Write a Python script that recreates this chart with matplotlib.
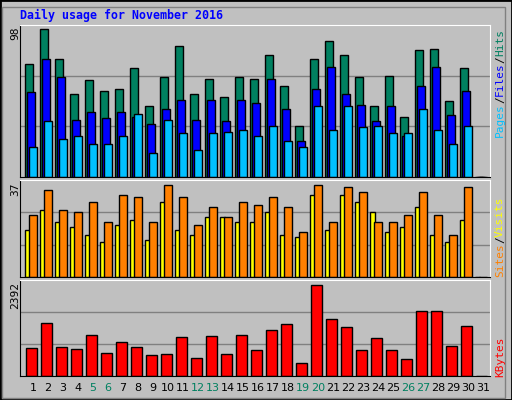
import matplotlib

matplotlib.use("Agg")
import matplotlib.pyplot as plt
from matplotlib.patches import Rectangle

days = list(range(1, 32))
weekend = [5, 6, 12, 13, 19, 20, 26, 27]

hits = [75, 98, 78, 55, 64, 57, 58, 72, 47, 66, 87, 55, 65, 53, 66, 65, 81, 60, 34, 78,
        90, 81, 66, 47, 67, 40, 84, 85, 50, 72, 0]
files = [56, 78, 66, 38, 43, 39, 43, 40, 35, 45, 51, 38, 51, 37, 51, 49, 65, 45, 24, 58,
         73, 55, 48, 37, 47, 27, 60, 73, 41, 57, 0]
pages = [20, 37, 25, 27, 22, 22, 27, 42, 16, 38, 29, 18, 29, 30, 31, 27, 34, 24, 20, 47,
         31, 47, 33, 34, 29, 29, 45, 31, 22, 34, 0]
sites = [19, 27, 22, 20, 17, 14, 21, 23, 15, 30, 19, 17, 24, 24, 22, 22, 26, 17, 16, 33,
         19, 33, 30, 26, 18, 20, 28, 17, 14, 23, 0]
visits = [25, 35, 27, 26, 30, 22, 33, 32, 22, 37, 32, 21, 28, 24, 30, 29, 32, 28, 18, 37,
          22, 36, 34, 22, 22, 25, 34, 25, 17, 36, 0]
kbytes = [742, 1397, 768, 716, 1083, 611, 899, 768, 559, 585, 1030, 480, 1056, 585, 1083,
          690, 1213, 1371, 349, 2392, 1502, 1292, 690, 1004, 690, 454, 1711, 1711, 794, 1318, 0]

BG = "#c0c0c0"
W, H = 512, 400
fig = plt.figure(figsize=(W / 100, H / 100), dpi=100, facecolor=BG)
fig.patches.append(Rectangle((0, 0), 1, 1, transform=fig.transFigure, fill=False,
                             edgecolor="#000000", lw=2))
fig.patches.append(Rectangle((2 / W, 2 / H), 1 - 9 / W, 1 - 9 / H, transform=fig.transFigure,
                             fill=False, edgecolor="#808080", lw=1))

mono = "DejaVu Sans Mono"
fig.text(20 / W, 1 - 15 / H, "Daily usage for November 2016", color="#0000ff",
         fontsize=8.4, fontweight="bold", family=mono, va="center")

X0, X1 = 20, 490
xlim = ((X0 - 25) / 15 + 1, (X1 - 25) / 15 + 1)


def panel(top, bottom, vmax, label):
    ax = fig.add_axes([X0 / W, 1 - bottom / H, (X1 - X0) / W, (bottom - top) / H])
    ax.set_facecolor(BG)
    ax.set_xlim(*xlim)
    ax.set_ylim(0, vmax)
    ax.set_xticks([])
    ax.set_yticks([])
    for s in ("top", "right"):
        ax.spines[s].set_color("white")
    for s in ("left", "bottom"):
        ax.spines[s].set_color("black")
    for f in (1 / 3, 2 / 3):
        ax.axhline(vmax * f, color="#808080", lw=1, zorder=0)
    fig.text(15 / W, 1 - (top + 2) / H, label, rotation=90, ha="center", va="top",
             fontsize=8, family=mono)
    return ax


def bars(ax, vals, off, width, color):
    x = [d + off / 15 for d in days]
    ax.bar(x, vals, width=width / 15, align="edge", color=color, edgecolor="black",
           lw=1, zorder=2)


ax1 = panel(25, 177, 98 * 152 / 148, "98")
bars(ax1, hits, 0, 8, "#008060")
bars(ax1, files, 2, 8, "#0000ff")
bars(ax1, pages, 4, 8, "#00c0ff")

ax2 = panel(180, 277, 37 * 97 / 92, "37")
bars(ax2, sites, 0, 5, "#ffff00")
bars(ax2, visits, 4, 8, "#ff8000")

ax3 = panel(280, 376, 2392 * 96 / 91.5, "2392")
bars(ax3, kbytes, 1, 11, "#ff0000")

for d in days:
    fig.text((25 + 15 * (d - 1) + 8) / W, 1 - 388 / H, str(d), ha="center", va="center",
             fontsize=8, color="#008060" if d in weekend else "black")

renderer = fig.canvas.get_renderer()


def side(parts, y_bottom):
    # stack rotated pieces upward, measuring each one
    y = y_bottom
    for text, color in parts:
        t = fig.text(500 / W, 1 - y / H, text, rotation=90, ha="center", va="bottom",
                     fontsize=8, color=color, family=mono)
        y -= t.get_window_extent(renderer).height


side([("Pages", "#00c0ff"), ("/", "#000000"), ("Files", "#0000ff"), ("/", "#000000"),
      ("Hits", "#008060")], 137)
side([("Sites", "#ff8000"), ("/", "#000000"), ("Visits", "#ffff00")], 277)
side([("KBytes", "#ff0000")], 377)

fig.savefig("out.png", dpi=100, facecolor=BG)
